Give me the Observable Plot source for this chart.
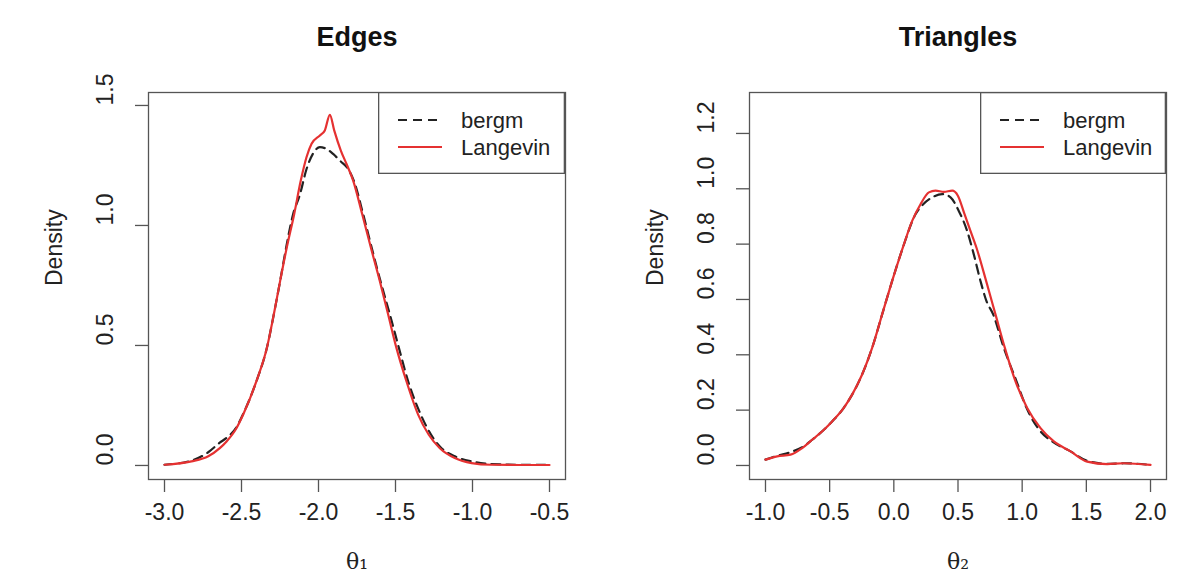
<!DOCTYPE html>
<html><head><meta charset="utf-8">
<script src="https://cdn.jsdelivr.net/npm/d3@7"></script>
<script src="https://cdn.jsdelivr.net/npm/@observablehq/plot@0.6"></script>
<style>
body{margin:0;background:#fff;}
#wrap{position:relative;width:1195px;height:579px;overflow:hidden;background:#fff;}
.panel{position:absolute;top:0;}
.legend{position:absolute;}
</style>
</head><body>
<div id="wrap"></div>
<script>
// ---------- Data ----------
const titles = ["Edges", "Triangles"];
const xLabels = ["θ₁", "θ₂"];
const seriesNames = ["bergm", "Langevin"];

const edgesXTicks = [-3.0, -2.5, -2.0, -1.5, -1.0, -0.5];
const edgesYTicks = [0.0, 0.5, 1.0, 1.5];
const triXTicks = [-1.0, -0.5, 0.0, 0.5, 1.0, 1.5, 2.0];
const triYTicks = [0.0, 0.2, 0.4, 0.6, 0.8, 1.0, 1.2];

// Edges – Langevin (red, solid)
const edgesLangX = [-3.0,-2.825,-2.716,-2.641,-2.597,-2.532,-2.489,-2.403,-2.335,-2.29,-2.249,-2.206,-2.158,-2.115,-2.078,-2.045,-1.991,-1.959,-1.926,-1.898,-1.855,-1.818,-1.775,-1.716,-1.66,-1.602,-1.548,-1.494,-1.429,-1.353,-1.284,-1.212,-1.115,-1.006,-0.877,-0.70,-0.50];
const edgesLangY = [0.003,0.017,0.038,0.072,0.100,0.156,0.212,0.351,0.490,0.630,0.769,0.908,1.047,1.187,1.284,1.340,1.375,1.396,1.461,1.396,1.312,1.256,1.187,1.047,0.908,0.769,0.630,0.490,0.351,0.212,0.128,0.072,0.031,0.010,0.003,0.002,0.002];
// Edges – bergm (black, dashed)
const edgesBergX = [-3.0,-2.825,-2.716,-2.641,-2.597,-2.532,-2.489,-2.403,-2.335,-2.29,-2.249,-2.21,-2.165,-2.12,-2.08,-2.035,-1.991,-1.948,-1.905,-1.861,-1.807,-1.771,-1.71,-1.655,-1.598,-1.537,-1.478,-1.418,-1.336,-1.255,-1.201,-1.115,-1.006,-0.877,-0.70,-0.50];
const edgesBergY = [0.003,0.020,0.055,0.095,0.115,0.160,0.215,0.351,0.490,0.630,0.769,0.908,1.047,1.130,1.230,1.300,1.326,1.319,1.298,1.270,1.235,1.187,1.047,0.908,0.769,0.630,0.490,0.351,0.212,0.114,0.072,0.038,0.017,0.006,0.003,0.003];

// Triangles – Langevin (red, solid)
const triLangX = [-1.0,-0.909,-0.805,-0.714,-0.636,-0.545,-0.481,-0.39,-0.325,-0.247,-0.169,-0.091,-0.013,0.07,0.143,0.208,0.273,0.325,0.39,0.455,0.499,0.551,0.597,0.644,0.719,0.792,0.865,0.948,1.039,1.143,1.247,1.377,1.506,1.662,1.792,2.0];
const triLangY = [0.021,0.033,0.039,0.063,0.093,0.129,0.159,0.208,0.256,0.329,0.425,0.546,0.667,0.787,0.884,0.944,0.987,0.993,0.989,0.993,0.975,0.908,0.848,0.787,0.667,0.546,0.425,0.304,0.208,0.135,0.087,0.051,0.014,0.005,0.008,0.002];
// Triangles – bergm (black, dashed)
const triBergX = [-1.0,-0.909,-0.805,-0.714,-0.636,-0.545,-0.481,-0.39,-0.325,-0.247,-0.169,-0.091,-0.013,0.07,0.169,0.229,0.299,0.377,0.442,0.506,0.571,0.623,0.675,0.722,0.774,0.857,0.956,1.034,1.143,1.234,1.377,1.506,1.662,1.792,2.0];
const triBergY = [0.021,0.035,0.048,0.066,0.093,0.129,0.159,0.208,0.256,0.329,0.425,0.546,0.667,0.787,0.908,0.944,0.969,0.981,0.969,0.920,0.848,0.763,0.667,0.594,0.546,0.425,0.304,0.208,0.123,0.087,0.051,0.017,0.006,0.008,0.002];

// ---------- Drawing ----------
const SANS = "'Liberation Sans', Arial, Helvetica, sans-serif";
const NARROW = "'Liberation Sans Narrow', 'Arial Narrow', 'Liberation Sans', sans-serif";
const SERIF = "'DejaVu Serif', 'Liberation Serif', serif";
const RED = "#e53131";
const BLACK = "#222";
const pts = (xs, ys) => xs.map((x, i) => ({x, y: ys[i]}));

function panel({width, ml, mr, xdomain, ydomain, xticks, yticks, title, xlabel, berg, lang}) {
  return Plot.plot({
    width, height: 579,
    marginLeft: ml, marginRight: mr, marginTop: 92, marginBottom: 100,
    x: {domain: xdomain},
    y: {domain: ydomain},
    style: {fontFamily: SANS, fontSize: "22px", color: "#222", background: "white"},
    marks: [
      Plot.axisX(xticks, {tickSize: 13, tickPadding: 11, tickFormat: d => d.toFixed(1), fontSize: 23, label: null, stroke: "#555", strokeWidth: 1.3}),
      Plot.axisY(yticks, {tickSize: 13, tickFormat: () => "", label: null, stroke: "#555", strokeWidth: 1.3}),
      Plot.text(yticks, {y: d => d, text: d => d.toFixed(1), frameAnchor: "left", dx: -43, rotate: -90, fontSize: 23, fontFamily: NARROW, fill: "#222"}),
      Plot.text(["Density"], {frameAnchor: "left", dx: -94, rotate: -90, fontSize: 23, fontFamily: NARROW, fill: "#222"}),
      Plot.text([title], {frameAnchor: "top", lineAnchor: "middle", dy: -55, fontSize: 27, fontWeight: "bold", fill: "#111"}),
      Plot.text([xlabel], {frameAnchor: "bottom", lineAnchor: "middle", dy: 82, fontSize: 22, fontFamily: SERIF, fill: "#222"}),
      Plot.line(berg, {x: "x", y: "y", stroke: BLACK, strokeWidth: 2.2, strokeDasharray: "9,6", curve: "monotone-x"}),
      Plot.line(lang, {x: "x", y: "y", stroke: RED, strokeWidth: 2.2, curve: "monotone-x"}),
      Plot.frame({stroke: "#555", strokeWidth: 1.3})
    ]
  });
}

const wrap = document.getElementById("wrap");

const p1 = panel({
  width: 597, ml: 148, mr: 32,
  xdomain: [-3 - 16/154, -0.5 + 16/154],
  ydomain: [-0.0585, 1.554],
  xticks: edgesXTicks, yticks: edgesYTicks,
  title: titles[0], xlabel: xLabels[0],
  berg: pts(edgesBergX, edgesBergY), lang: pts(edgesLangX, edgesLangY)
});
p1.classList.add("panel"); p1.style.left = "0px";
wrap.appendChild(p1);

const p2 = panel({
  width: 598, ml: 152, mr: 29,
  xdomain: [-1 - 16/128.4, 2 + 16/128.4],
  ydomain: [-0.0507, 1.348],
  xticks: triXTicks, yticks: triYTicks,
  title: titles[1], xlabel: xLabels[1],
  berg: pts(triBergX, triBergY), lang: pts(triLangX, triLangY)
});
p2.classList.add("panel"); p2.style.left = "597px";
wrap.appendChild(p2);

// Legends (top-right of each panel)
function legend(left, top, w, h) {
  const svg = d3.create("svg").attr("class", "legend").attr("width", w).attr("height", h)
    .style("left", left + "px").style("top", top + "px");
  svg.append("rect").attr("x", 0.65).attr("y", 0.65).attr("width", w - 1.3).attr("height", h - 1.3)
    .attr("fill", "white").attr("stroke", "#555").attr("stroke-width", 1.3);
  const styles = [{stroke: BLACK, dash: "9,6"}, {stroke: RED, dash: null}];
  seriesNames.forEach((name, i) => {
    const cy = 28 + i * 27;
    svg.append("line").attr("x1", 20).attr("x2", 64).attr("y1", cy).attr("y2", cy)
      .attr("stroke", styles[i].stroke).attr("stroke-width", 2.2)
      .attr("stroke-dasharray", styles[i].dash);
    svg.append("text").attr("x", 83).attr("y", cy).attr("dy", "0.35em")
      .attr("font-family", SANS).attr("font-size", 22).attr("fill", "#222").text(name);
  });
  wrap.appendChild(svg.node());
}
legend(378, 92, 187, 82);
legend(980, 92, 186, 82);
</script>
</body></html>
